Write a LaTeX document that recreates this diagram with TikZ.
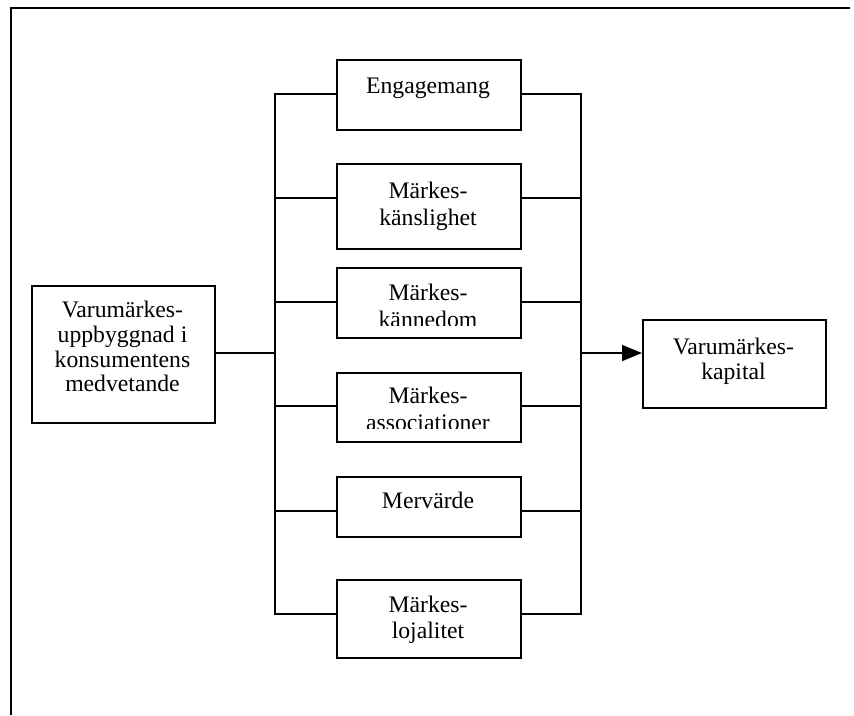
\documentclass[tikz,border=0pt]{standalone}
\usepackage{fontspec}
\setmainfont{Liberation Serif}
\usetikzlibrary{arrows.meta}
\begin{document}
\begin{tikzpicture}[x=1pt,y=-1pt,
  frameline/.style={line width=2pt},
  box/.style={draw, line width=1.6pt, inner sep=0pt, anchor=north west},
  link/.style={line width=1.6pt},
  txt/.style={inner sep=0pt, anchor=base, font=\fontsize{23.7}{27}\selectfont}]
\useasboundingbox (0,0) rectangle (854,715);
% outer frame (top and left only)
\draw[frameline] (850,8) -- (11,8) -- (11,715);
% boxes
\node[box, minimum width=183pt, minimum height=137pt] (src) at (31,285) {};
\node[box, minimum width=183pt, minimum height=88pt] (cap) at (642,319) {};
\node[box, minimum width=184pt, minimum height=70pt] (b1) at (336,59) {};
\node[box, minimum width=184pt, minimum height=85pt] (b2) at (336,163) {};
\node[box, minimum width=184pt, minimum height=70pt] (b3) at (336,267) {};
\node[box, minimum width=184pt, minimum height=69pt] (b4) at (336,372) {};
\node[box, minimum width=184pt, minimum height=60pt] (b5) at (336,476) {};
\node[box, minimum width=184pt, minimum height=78pt] (b6) at (336,579) {};
% bracket points
\coordinate (L1) at (275,94);  \coordinate (R1) at (581,94);
\coordinate (L2) at (275,198); \coordinate (R2) at (581,198);
\coordinate (L3) at (275,302); \coordinate (R3) at (581,302);
\coordinate (L4) at (275,406); \coordinate (R4) at (581,406);
\coordinate (L5) at (275,511); \coordinate (R5) at (581,511);
\coordinate (L6) at (275,614); \coordinate (R6) at (581,614);
\coordinate (LM) at (275,353); \coordinate (RM) at (581,353);
% brackets
\draw[link] (b1.west |- L1) -- (L1) -- (L6) -- (b6.west |- L6);
\draw[link] (b1.east |- R1) -- (R1) -- (R6) -- (b6.east |- R6);
\draw[link] (L2) -- (b2.west |- L2);
\draw[link] (L3) -- (b3.west |- L3);
\draw[link] (L4) -- (b4.west |- L4);
\draw[link] (L5) -- (b5.west |- L5);
\draw[link] (R2) -- (b2.east |- R2);
\draw[link] (R3) -- (b3.east |- R3);
\draw[link] (R4) -- (b4.east |- R4);
\draw[link] (R5) -- (b5.east |- R5);
% input and output
\draw[link] (src.east |- LM) -- (LM);
\draw[link, -{Triangle[length=20pt,width=16pt]}] (RM) -- (cap.west |- RM);
% texts
\node[txt] (s1) at (122.5,317) {Varumärkes-};
\node[txt] (s2) at (122.5,342) {uppbyggnad i};
\node[txt] (s3) at (122.5,367) {konsumentens};
\node[txt] (s4) at (122.5,391) {medvetande};
\node[txt] (c1) at (733.5,354) {Varumärkes-};
\node[txt] (c2) at (733.5,379) {kapital};
\node[txt] (t1) at (428,93) {Engagemang};
\node[txt] (t2a) at (428,198) {Märkes-};
\node[txt] (t2b) at (428,225) {känslighet};
\begin{scope}
\clip (336,267) rectangle (520,325);
\node[txt] (t3a) at (428,300) {Märkes-};
\node[txt] (t3b) at (428,327) {kännedom};
\end{scope}
\begin{scope}
\clip (336,372) rectangle (520,428.5);
\node[txt] (t4a) at (428,403) {Märkes-};
\node[txt] (t4b) at (428,430) {associationer};
\end{scope}
\node[txt] (t5) at (428,508) {Mervärde};
\node[txt] (t6a) at (428,612) {Märkes-};
\node[txt] (t6b) at (428,638) {lojalitet};
\end{tikzpicture}
\end{document}
